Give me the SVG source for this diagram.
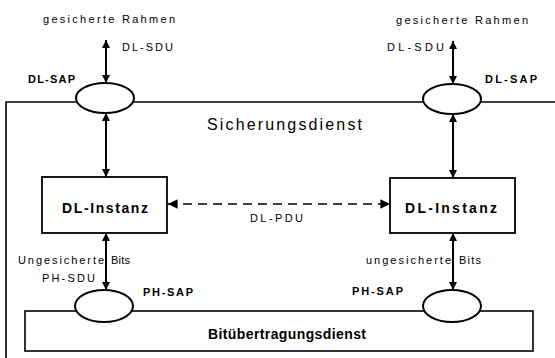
<svg xmlns="http://www.w3.org/2000/svg" width="555" height="358" viewBox="0 0 555 358">
  <defs>
    <marker id="head" viewBox="0 0 10 10" refX="10" refY="5" markerWidth="4" markerHeight="4" orient="auto-start-reverse" markerUnits="strokeWidth">
      <path d="M0,0 L10,5 L0,10 Z" fill="#000"/>
    </marker>
    <marker id="headDash" viewBox="0 0 10 10" refX="10" refY="5" markerWidth="6" markerHeight="6" orient="auto-start-reverse" markerUnits="strokeWidth">
      <path d="M0,0 L10,5 L0,10 Z" fill="#000"/>
    </marker>
  </defs>
  <style>
    text { font-family: "Liberation Sans", Arial, sans-serif; fill: #000; }
    .small { font-size: 11px; }
    .lbl { font-size: 11px; }
    .sap { font-size: 11px; font-weight: bold; }
    .inst { font-size: 14px; font-weight: bold; }
    .svc { font-size: 16px; }
    .svcb { font-size: 14px; font-weight: bold; }
    .frame { fill: none; stroke: #000; stroke-width: 1.6; }
    .box { fill: #fff; stroke: #000; stroke-width: 1.8; }
    .sapshape { fill: #fff; stroke: #000; stroke-width: 2; }
    .arrow { fill: none; stroke: #000; stroke-width: 2; marker-start: url(#head); marker-end: url(#head); }
    .dash { fill: none; stroke: #000; stroke-width: 1.6; stroke-dasharray: 9 6; marker-start: url(#headDash); marker-end: url(#headDash); }
  </style>
  <rect width="555" height="358" fill="#fff"/>

  <!-- data link layer service boundary -->
  <g id="sicherungsdienst">
    <path class="frame" d="M555,102 L6,102 L6,358"/>
    <text class="svc" x="207" y="130" textLength="155" lengthAdjust="spacing">Sicherungsdienst</text>
  </g>

  <!-- physical layer service -->
  <g id="bituebertragungsdienst">
    <rect class="frame" x="25" y="311" width="508" height="40"/>
    <text class="svcb" x="208" y="339" textLength="158" lengthAdjust="spacing">Bitübertragungsdienst</text>
  </g>

  <!-- connectors -->
  <g id="connectors">
    <line class="arrow" x1="106" y1="40" x2="106" y2="83"/>
    <line class="arrow" x1="453" y1="41" x2="453" y2="84"/>
    <line class="arrow" x1="106" y1="113" x2="106" y2="177"/>
    <line class="arrow" x1="453" y1="114" x2="453" y2="178"/>
    <line class="arrow" x1="106" y1="233" x2="106" y2="290"/>
    <line class="arrow" x1="453" y1="233" x2="453" y2="290"/>
    <line class="dash" x1="168" y1="204" x2="390" y2="204"/>
    <text class="lbl" x="250" y="222" textLength="53" lengthAdjust="spacing">DL-PDU</text>
    <text class="lbl" x="18" y="264" textLength="86" lengthAdjust="spacing">Ungesicherte</text>
    <text class="lbl" x="111" y="264" textLength="19" lengthAdjust="spacing">Bits</text>
    <text class="lbl" x="42" y="282" textLength="53" lengthAdjust="spacing">PH-SDU</text>
    <text class="lbl" x="366" y="264" textLength="85" lengthAdjust="spacing">ungesicherte</text>
    <text class="lbl" x="459" y="264" textLength="22" lengthAdjust="spacing">Bits</text>
  </g>

  <!-- upper service access points -->
  <g id="dl-sap-left">
    <ellipse class="sapshape" cx="105" cy="98" rx="29" ry="15"/>
    <text class="sap" x="28" y="83" textLength="47" lengthAdjust="spacing">DL-SAP</text>
    <text class="lbl" x="122" y="51" textLength="51" lengthAdjust="spacing">DL-SDU</text>
    <text class="small" x="43" y="23" textLength="132" lengthAdjust="spacing">gesicherte Rahmen</text>
  </g>
  <g id="dl-sap-right">
    <ellipse class="sapshape" cx="452" cy="99" rx="29" ry="15"/>
    <text class="sap" x="485" y="83" textLength="52" lengthAdjust="spacing">DL-SAP</text>
    <text class="lbl" x="387" y="51" textLength="57" lengthAdjust="spacing">DL-SDU</text>
    <text class="small" x="396" y="24" textLength="132" lengthAdjust="spacing">gesicherte Rahmen</text>
  </g>

  <!-- protocol entities -->
  <g id="dl-instanz-left">
    <rect class="box" x="42" y="177" width="125" height="56"/>
    <text class="inst" x="62" y="213" textLength="86" lengthAdjust="spacing">DL-Instanz</text>
  </g>
  <g id="dl-instanz-right">
    <rect class="box" x="390" y="178" width="125" height="55"/>
    <text class="inst" x="405" y="213" textLength="92" lengthAdjust="spacing">DL-Instanz</text>
  </g>

  <!-- lower service access points -->
  <g id="ph-sap-left">
    <ellipse class="sapshape" cx="104" cy="306" rx="29" ry="16"/>
    <text class="sap" x="143" y="296" textLength="50" lengthAdjust="spacing">PH-SAP</text>
  </g>
  <g id="ph-sap-right">
    <ellipse class="sapshape" cx="452" cy="306" rx="29" ry="16"/>
    <text class="sap" x="352" y="295" textLength="51" lengthAdjust="spacing">PH-SAP</text>
  </g>
</svg>
